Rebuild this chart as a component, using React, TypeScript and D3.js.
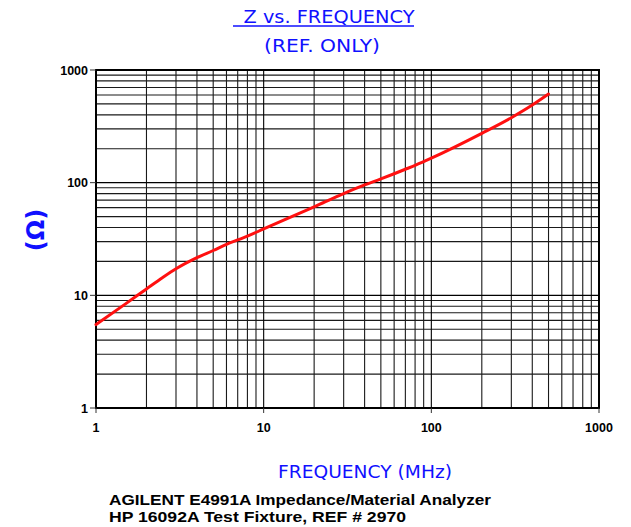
import { scaleLog, line, curveMonotoneX } from "d3";

// frequency (MHz) and impedance (ohm)
const freqMHz = [1, 1.5, 2, 2.5, 3, 4, 5, 6, 7, 8, 10, 20, 30, 40, 50, 60, 70, 80, 100, 200, 300, 400, 500];
const impedance = [5.5, 8.4, 11.4, 14.4, 17.2, 21.6, 25, 28.3, 31, 33.5, 38.8, 61, 80, 95.5, 108, 120, 131.5, 142.5, 165, 274, 377, 488, 611];
const xTicks = [1, 10, 100, 1000];
const yTicks = [1, 10, 100, 1000];
const decades = [1, 10, 100];
const minorSteps = [2, 3, 4, 5, 6, 7, 8, 9];

const W = 631;
const H = 527;
const left = 96;
const right = 599;
const top = 70;
const bottom = 408;

const App = () => {
  const x = scaleLog().domain([1, 1000]).range([left, right]);
  const y = scaleLog().domain([1, 1000]).range([bottom, top]);

  const gridVals = decades.flatMap((d) => minorSteps.map((m) => d * m));
  const pts = freqMHz.map((f, i) => [f, impedance[i]] as [number, number]);
  const path = line<[number, number]>()
    .x((d) => x(d[0]))
    .y((d) => y(d[1]))
    .curve(curveMonotoneX)(pts);

  const blue = "#1010ff";

  return (
    <svg
      width={W}
      height={H}
      style={{ position: "absolute", left: 0, top: 0, background: "#fff" }}
    >
      {/* titles */}
      <text x={329} y={23} fill={blue} fontFamily="DejaVu Sans" fontSize={17} textAnchor="middle" textLength={171} lengthAdjust="spacingAndGlyphs">
        Z vs. FREQUENCY
      </text>
      <line x1={233} x2={414} y1={26} y2={26} stroke={blue} strokeWidth={1.3} />
      <text x={322} y={52} fill={blue} fontFamily="DejaVu Sans" fontSize={17} textAnchor="middle" textLength={116} lengthAdjust="spacingAndGlyphs">
        (REF. ONLY)
      </text>

      {/* grid */}
      {gridVals.map((v) => (
        <line key={"gx" + v} x1={x(v)} x2={x(v)} y1={top} y2={bottom} stroke="#1a1a1a" strokeWidth={1.1} />
      ))}
      {gridVals.map((v) => (
        <line key={"gy" + v} x1={left} x2={right} y1={y(v)} y2={y(v)} stroke="#1a1a1a" strokeWidth={1.1} />
      ))}
      {[10, 100].map((v) => (
        <g key={"mj" + v}>
          <line x1={x(v)} x2={x(v)} y1={top} y2={bottom} stroke="#000" strokeWidth={1.1} />
          <line x1={left} x2={right} y1={y(v)} y2={y(v)} stroke="#000" strokeWidth={1.1} />
        </g>
      ))}
      <rect x={left} y={top} width={right - left} height={bottom - top} fill="none" stroke="#000" strokeWidth={2} />

      {/* ticks and labels */}
      {yTicks.map((v) => (
        <g key={"yt" + v}>
          <line x1={left - 6} x2={left} y1={y(v)} y2={y(v)} stroke="#333" strokeWidth={1} />
          <text x={left - 8} y={y(v) + 4.5} textAnchor="end" fontFamily="Liberation Sans" fontWeight="bold" fontSize={12.5} fill="#000">
            {v}
          </text>
        </g>
      ))}
      {xTicks.map((v) => (
        <g key={"xt" + v}>
          <line x1={x(v)} x2={x(v)} y1={bottom} y2={bottom + 5} stroke="#333" strokeWidth={1} />
          <text x={x(v)} y={bottom + 24} textAnchor="middle" fontFamily="Liberation Sans" fontWeight="bold" fontSize={12.5} fill="#000">
            {v}
          </text>
        </g>
      ))}

      {/* curve */}
      <path d={path ?? ""} fill="none" stroke="#ff1010" strokeWidth={3} strokeLinecap="round" />

      {/* axis labels */}
      <text
        transform="translate(44,230) rotate(-90)"
        textAnchor="middle"
        fill={blue}
        fontFamily="DejaVu Sans"
        fontWeight="bold"
        fontSize={24}
      >
        (Ω)
      </text>
      <text x={365} y={478} fill={blue} fontFamily="DejaVu Sans" fontSize={17} textAnchor="middle" textLength={174} lengthAdjust="spacingAndGlyphs">
        FREQUENCY (MHz)
      </text>

      {/* footer */}
      <text x={109} y={505} fontFamily="Liberation Sans" fontWeight="bold" fontSize={15.5} fill="#000" textLength={382} lengthAdjust="spacingAndGlyphs">
        AGILENT E4991A Impedance/Material Analyzer
      </text>
      <text x={109} y={522} fontFamily="Liberation Sans" fontWeight="bold" fontSize={15.5} fill="#000" textLength={297} lengthAdjust="spacingAndGlyphs">
        HP 16092A Test Fixture, REF # 2970
      </text>
    </svg>
  );
};

export default App;
